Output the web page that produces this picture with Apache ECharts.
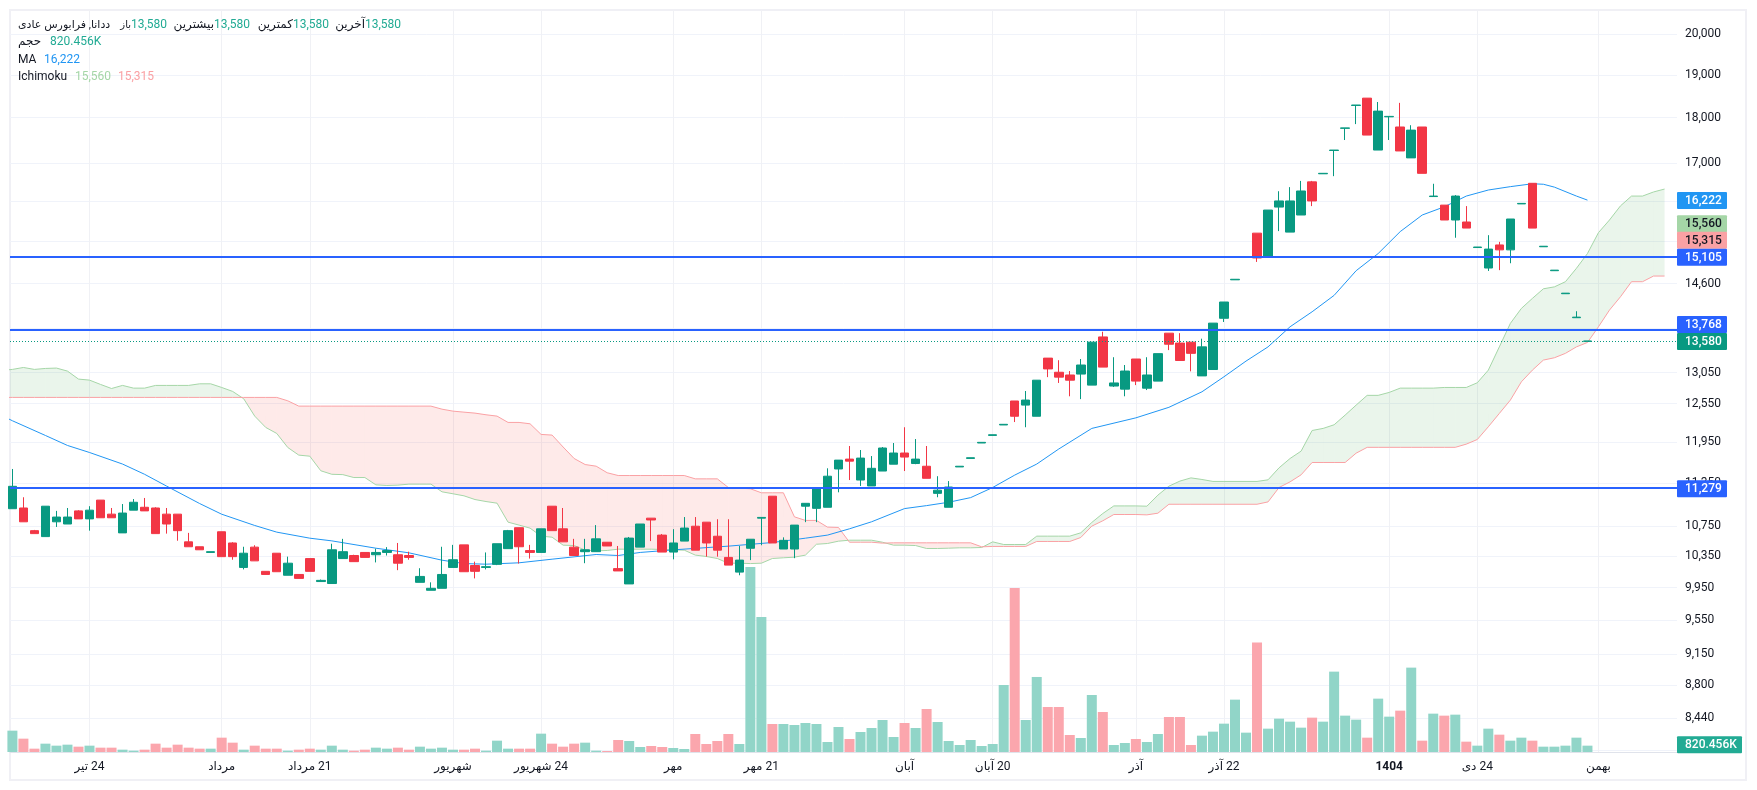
<!DOCTYPE html>
<html>
<head>
<meta charset="utf-8">
<style>html,body{margin:0;padding:0;background:#fff}#chart{width:1757px;height:790px}</style>
<script src="https://cdn.jsdelivr.net/npm/echarts@6/dist/echarts.min.js"></script>
</head>
<body>
<div id="chart"></div>
<script>
// [open, close, low, high], one row per session
var candles = [
[10990,11305,10990,11555],[11000,10810,10810,11150],[10690,10650,10650,10700],[10610,11025,10610,11025],[10810,10875,10740,10960],
[10780,10875,10780,11000],[10960,10850,10850,10970],[10850,10970,10690,11025],[11110,10865,10865,11110],[10915,10865,10865,11000],
[10660,10930,10660,11055],[10970,11080,10970,11125],[11010,10960,10960,11140],[11000,10650,10650,11010],[10915,10780,10650,11000],
[10915,10690,10555,10915],[10540,10475,10475,10660],[10475,10435,10435,10475],[10400,10410,10400,10410],[10675,10345,10345,10675],
[10525,10345,10305,10535],[10205,10390,10180,10475],[10470,10290,10290,10495],[10155,10115,10115,10155],[10390,10150,10150,10390],
[10105,10260,10105,10345],[10115,10065,10065,10115],[10320,10155,10155,10320],[10025,10040,10025,10050],[10000,10435,10000,10515],
[10320,10410,10320,10580],[10360,10280,10280,10370],[10400,10335,10335,10400],[10370,10400,10270,10450],[10400,10425,10360,10470],
[10370,10260,10170,10525],[10360,10335,10305,10410],[10015,10090,10015,10195],[9915,9940,9915,10015],[9940,10115,9940,10475],
[10205,10305,10205,10500],[10500,10150,10150,10500],[10230,10155,10065,10280],[10205,10215,10180,10400],[10245,10515,10235,10515],
[10450,10690,10450,10700],[10730,10475,10255,10730],[10425,10400,10320,10500],[10400,10715,10400,10715],[11025,10690,10690,11025],
[10715,10540,10540,11000],[10470,10360,10360,10580],[10410,10435,10260,10580],[10410,10580,10410,10765],[10535,10485,10485,10535],
[10190,10160,10160,10485],[9995,10590,9995,10605],[10470,10780,10470,10780],[10860,10835,10550,10860],[10630,10405,10405,10645],
[10405,10525,10310,10710],[10550,10725,10550,10875],[10750,10430,10430,10875],[10805,10525,10345,10805],[10615,10430,10345,10845],
[10335,10235,10235,10845],[10145,10300,10105,10485],[10455,10575,10300,10575],[10860,10870,10495,10870],[11165,10525,10525,11165],
[10445,10560,10445,10600],[10445,10765,10325,10765],[11025,11065,10805,11065],[10995,11280,10805,11280],[11010,11450,11010,11565],
[11555,11685,11220,11685],[11700,11670,11395,11895],[11395,11715,11310,11835],[11310,11565,11310,11745],[11525,11865,11525,11880],
[11625,11790,11625,11940],[11790,11730,11525,12180],[11635,11700,11625,12000],[11595,11420,11420,11895],[11205,11250,11150,11450],
[11010,11295,11010,11380],[11585,11595,11585,11595],[11710,11720,11710,11720],[11940,11950,11940,11950],[12055,12065,12055,12065],
[12215,12225,12215,12225],[12590,12350,12260,12590],[12525,12605,12180,12750],[12350,12925,12350,12925],[13290,13110,12975,13290],
[13055,12975,12880,13255],[13010,12925,12665,13075],[13025,13175,12620,13275],[12845,13560,12845,13560],[13650,13140,13140,13740],
[12830,12880,12815,13305],[12780,13075,12665,13175],[13275,12910,12845,13275],[12795,13010,12765,13305],[12910,13365,12910,13365],
[13715,13525,13425,13715],[13545,13250,13250,13715],[13560,13370,13070,13560],[12995,13480,12995,13620],[13100,13890,13100,13890],
[13975,14265,13910,14265],[14670,14680,14670,14680],[15095,15105,15095,15105],[15560,15080,15005,15560],[15105,16020,15105,16020],
[16080,16205,15600,16405],[15580,16205,15580,16490],[15920,16410,15920,16620],[16600,16205,16100,16620],[16770,16780,16770,16780],
[17270,17280,16720,17280],[17760,17770,17500,17770],[18280,18290,17855,18290],[18450,17610,17610,18450],[17280,18150,17280,18360],
[18020,18030,17500,18030],[17790,17260,17260,18340],[17110,17720,17110,17830],[17790,16780,16780,17790],[16295,16305,16295,16560],
[16120,15820,15820,16120],[15820,16305,15470,16325],[15780,15660,15660,16100],[15280,15290,15280,15290],[14890,15250,14835,15520],
[15330,15235,14850,15390],[15235,15840,14980,15840],[16145,16155,16145,16155],[16570,15660,15660,16570],[15295,15305,15295,15305],
[14840,14850,14840,14850],[14415,14425,14415,14425],[13985,13995,13985,14100],[13575,13580,13575,13580]
];
// volume in thousands
var volumes = [
2765,1728,432,1080,821,950,691,821,562,562,302,173,302,1080,562,950,562,432,432,1858,
1210,302,821,432,432,173,302,432,302,821,302,173,302,562,432,562,302,691,432,562,
302,302,432,173,1469,432,432,432,2376,1080,691,1080,1210,173,130,1555,1426,648,778,648,
518,389,2333,1037,1426,2333,1037,23976,17496,3629,3629,3499,3758,3629,1296,3240,1685,2592,3110,4147,
1944,3758,3110,5573,3888,1426,907,1555,778,1037,8683,21254,4147,9720,5832,5832,2203,1814,7387,5184,
907,1166,1685,1296,2333,4536,4536,907,2117,2635,3672,6782,2506,14170,3024,4320,3931,3154,4450,3931,
10411,4709,4190,1858,6912,4579,5357,10930,1469,4968,4709,4838,1339,821,3024,2246,1469,1858,1469,691,
691,821,1858,820.456
];
// moving average, read at these session indexes
var maIdx = [-1,0,3,5,7,10,12,14,17,19,22,24,27,29,33,36,39,41,43,46,49,53,55,57,60,65,69,72,74,76,78,81,83,85,87,89,91,93,95,98,102,105,108,110,112,114,116,118,120,122,124,126,128,130,132,134,136,138,139,140,142,143];
var maVal = [12365,12280,12054,11903,11798,11627,11478,11308,11062,10914,10760,10670,10589,10553,10456,10395,10299,10255,10247,10265,10312,10373,10360,10400,10434,10483,10531,10589,10630,10715,10810,10992,11033,11080,11145,11288,11466,11627,11850,12162,12325,12490,12737,12981,13240,13480,13826,14090,14385,14840,15165,15590,15920,16085,16305,16430,16500,16560,16550,16490,16305,16222];
// ichimoku spans, first value is one session before the first candle, last is 8 sessions past the last
var spanA = [13085,13102,13134,13102,13118,13124,13074,12943,12926,12856,12790,12840,12796,12796,12840,12840,12840,12840,12866,12866,12807,12743,12626,12352,12177,12085,11873,11759,11743,11529,11478,11473,11431,11431,11326,11317,11322,11336,11336,11336,11227,11199,11170,11118,11090,11067,10805,10765,10724,10616,10602,10496,10491,10430,10421,10426,10443,10443,10443,10443,10439,10434,10430,10365,10347,10321,10260,10260,10255,10260,10321,10330,10338,10365,10508,10518,10549,10562,10562,10562,10535,10496,10496,10491,10452,10452,10456,10461,10461,10465,10540,10505,10505,10505,10616,10616,10616,10616,10661,10801,10924,11029,11029,11029,11025,11180,11307,11380,11426,11403,11375,11375,11375,11375,11375,11398,11572,11709,11818,12130,12162,12218,12368,12525,12680,12680,12727,12796,12796,12796,12796,12807,12807,12807,12883,13090,13480,13885,14150,14330,14505,14540,14635,14885,15165,15570,15820,16105,16305,16305,16390,16450];
var spanB = [12647,12647,12647,12647,12647,12647,12647,12647,12647,12647,12647,12647,12647,12647,12647,12647,12647,12647,12647,12647,12647,12647,12647,12647,12647,12647,12593,12509,12509,12509,12509,12509,12509,12509,12509,12509,12509,12509,12509,12509,12461,12430,12414,12399,12373,12352,12254,12254,12233,12070,12060,11880,11709,11620,11596,11500,11460,11460,11460,11460,11460,11460,11460,11412,11412,11412,11288,11279,11270,11213,11213,11213,10878,10829,10829,10738,10733,10535,10535,10535,10523,10527,10527,10527,10527,10527,10527,10527,10527,10474,10479,10479,10479,10479,10545,10545,10545,10545,10598,10751,10824,10910,10910,10910,10905,10928,11052,11052,11052,11052,11052,11052,11052,11052,11052,11085,11288,11369,11470,11650,11650,11650,11650,11788,11875,11875,11875,11875,11875,11875,11875,11875,11875,11923,11993,12187,12394,12604,12898,13090,13257,13296,13370,13480,13555,13826,14120,14360,14635,14635,14740,14740];

var xTickIdx = [7,19,27,40,48,60,68,81,89,102,110,125,133,144];
var xTickNames = ['24 تیر','مرداد','21 مرداد','شهریور','24 شهریور','مهر','21 مهر','آبان','20 آبان','آذر','22 آذر','1404','24 دی','بهمن'];
var yGrid = [20000,19000,18000,17000,16200,15400,14600,13800,13050,12550,11950,11350,10750,10350,9950,9550,9150,8800,8440,8100];
var yLabels = [20000,19000,18000,17000,14600,13050,12550,11950,11350,10750,10350,9950,9550,9150,8800,8440];
var levels = [15105,13768,11279];
var lastPrice = 13580;
var tagValues = [16222,15560,15315,15105,13768,13580,11279];
var tagShift = [0,-10,-6,0,-6,0,0];
var tagBg = ['#2196f3','#a5d6a7','#faa1a4','#2962ff','#2962ff','#089981','#2962ff'];
var tagFg = ['#fff','#131722','#131722','#fff','#fff','#fff','#fff'];
var lastVolume = 820.456;
var lastVolumeText = '820.456K';

var FONT = 'Roboto, "DejaVu Sans", sans-serif';
var UP = '#089981', DOWN = '#f23645';

function fmt(v) { return Number(v).toLocaleString('en-US'); }

var myChart = echarts.init(document.getElementById('chart'));

function legendText(x, y, text, fill, align, size) {
    return { type: 'text', silent: true, z: 20, style: { x: x, y: y, text: text, fill: fill, font: (size || 12) + 'px ' + FONT, textAlign: align || 'left', textVerticalAlign: 'middle' } };
}

// tags on the price scale, anchored to the axis through api.coord
function tagItem(label, shift, bg, fg, w, params, api) {
    var y = api.coord([0, api.value(1)])[1] + shift + 0.5;
    var x = params.coordSys.x + params.coordSys.width;
    return { type: 'group', children: [
        { type: 'rect', shape: { x: x, y: y - 8.5, width: w, height: 17, r: 1 }, style: { fill: bg } },
        { type: 'text', style: { x: x + 8, y: y + 0.5, text: label, fill: fg, font: '500 12px ' + FONT, textVerticalAlign: 'middle' } }
    ] };
}

// cloud between the spans, one polygon per session
function cloudItem(params, api) {
    var i = params.dataIndex;
    if (i >= spanA.length - 1) return;
    var x0 = i - 1, x1 = i;
    var a0 = api.coord([x0, spanA[i]]), b0 = api.coord([x0, spanB[i]]);
    var a1 = api.coord([x1, spanA[i + 1]]), b1 = api.coord([x1, spanB[i + 1]]);
    var d0 = spanA[i] - spanB[i], d1 = spanA[i + 1] - spanB[i + 1];
    var green = 'rgba(67,160,71,0.11)', red = 'rgba(244,67,54,0.11)';
    if (d0 * d1 < 0) {
        var t = (a0[1] - b0[1]) / ((a0[1] - b0[1]) - (a1[1] - b1[1]));
        var c = [a0[0] + (a1[0] - a0[0]) * t, a0[1] + (a1[1] - a0[1]) * t];
        return { type: 'group', children: [
            { type: 'polygon', shape: { points: [a0, c, b0] }, style: { fill: d0 > 0 ? green : red } },
            { type: 'polygon', shape: { points: [c, a1, b1] }, style: { fill: d1 > 0 ? green : red } }
        ] };
    }
    return { type: 'polygon', shape: { points: [a0, a1, b1, b0] }, style: { fill: (d0 + d1) >= 0 ? green : red } };
}

var option = {
    animation: false,
    backgroundColor: '#fff',
    textStyle: { fontFamily: FONT },
    grid: { left: 10, top: 10, width: 1667, height: 742 },
    xAxis: {
        type: 'value', min: -0.218, max: 151.13,
        axisLine: { show: true, onZero: false, lineStyle: { color: '#e0e3eb', width: 1 } },
        axisTick: { show: false, customValues: xTickIdx },
        splitLine: { show: true, lineStyle: { color: '#f0f1f5', width: 1 } },
        axisLabel: {
            customValues: xTickIdx, color: '#131722', fontSize: 12, margin: 9,
            fontFamily: FONT,
            formatter: function (v) {
                var s = xTickNames[xTickIdx.indexOf(v)];
                return s === '1404' ? '{b|1404}' : '\u200F' + s;
            },
            rich: { b: { fontWeight: 'bold', fontSize: 12, color: '#131722', fontFamily: FONT } }
        }
    },
    yAxis: [{
        type: 'log', position: 'right', min: 8085, max: 20620,
        axisLine: { show: false },
        axisTick: { show: false, customValues: yGrid },
        splitLine: { show: true, lineStyle: { color: '#f0f3fa', width: 1 } },
        axisLabel: { customValues: yLabels, color: '#131722', fontSize: 12, margin: 8, fontFamily: FONT, formatter: fmt }
    }, {
        type: 'value', min: 0, max: 96120, show: false, splitLine: { show: false }
    }],
    series: [
        {
            name: 'volume', type: 'bar', yAxisIndex: 1, barWidth: 10, z: 1,
            data: volumes.map(function (v, i) { return [i, v]; }),
            itemStyle: { color: function (p) {
                var c = candles[p.dataIndex];
                return c[1] >= c[0] ? '#91d5c8' : '#fba6ad';
            } }
        },
        {
            name: 'cloud', type: 'custom', clip: true, z: 1, silent: true,
            data: spanA.map(function (v, i) { return [i - 1, v]; }),
            renderItem: cloudItem
        },
        {
            name: 'spanA', type: 'line', symbol: 'none', z: 2, silent: true,
            data: spanA.map(function (v, i) { return [i - 1, v]; }),
            lineStyle: { color: '#a5d6a7', width: 1 }
        },
        {
            name: 'spanB', type: 'line', symbol: 'none', z: 2, silent: true,
            data: spanB.map(function (v, i) { return [i - 1, v]; }),
            lineStyle: { color: '#faa1a4', width: 1 }
        },
        {
            name: 'MA', type: 'line', symbol: 'none', z: 2, silent: true,
            data: maIdx.map(function (x, i) { return [x, maVal[i]]; }),
            lineStyle: { color: '#2196f3', width: 1 }
        },
        {
            name: 'price', type: 'candlestick', barWidth: 9, z: 3,
            data: candles.map(function (c, i) { return [i, c[0], c[1], c[2], c[3]]; }),
            itemStyle: { color: UP, color0: DOWN, borderColor: UP, borderColor0: DOWN, borderWidth: 1 }
        },
        {
            name: 'levels', type: 'line', data: [], z: 5, silent: true,
            markLine: {
                silent: true, symbol: 'none', animation: false, label: { show: false },
                data: levels.map(function (v) {
                    return { yAxis: v, lineStyle: { color: '#2962ff', width: 2, type: 'solid' } };
                }).concat([{ yAxis: lastPrice, lineStyle: { color: UP, width: 1, type: [1, 2] } }])
            }
        },
        {
            name: 'tags', type: 'custom', z: 10, silent: true,
            data: tagValues.map(function (v) { return [0, v]; }),
            renderItem: function (params, api) {
                var i = params.dataIndex;
                return tagItem(fmt(tagValues[i]), tagShift[i], tagBg[i], tagFg[i], 50, params, api);
            }
        },
        {
            name: 'volumeTag', type: 'custom', yAxisIndex: 1, z: 10, silent: true,
            data: [[0, lastVolume]],
            renderItem: function (params, api) {
                return tagItem(lastVolumeText, -1.5, '#22ab94', '#fff', 65, params, api);
            }
        }
    ],
    graphic: [
        { type: 'rect', silent: true, z: -1, shape: { x: 10, y: 10, width: 1736, height: 770 }, style: { fill: 'none', stroke: '#f0f0f5', lineWidth: 2 } },
        legendText(18, 25, 'ددانا, فرابورس عادی', '#131722', 'left', 11),
        legendText(131, 25, 'باز', '#131722', 'right', 10),
        legendText(131, 25, '13,580', '#22ab94'),
        legendText(214, 25, 'بیشترین', '#131722', 'right'),
        legendText(214, 25, '13,580', '#22ab94'),
        legendText(293, 25, 'کمترین', '#131722', 'right'),
        legendText(293, 25, '13,580', '#22ab94'),
        legendText(365, 25, 'آخرین', '#131722', 'right'),
        legendText(365, 25, '13,580', '#22ab94'),
        legendText(18, 42, 'حجم', '#131722'),
        legendText(50, 42, '820.456K', '#22ab94'),
        legendText(18, 59.5, 'MA', '#131722'),
        legendText(44, 59.5, '16,222', '#2196f3'),
        legendText(18, 76.5, 'Ichimoku', '#131722'),
        legendText(75, 76.5, '15,560', '#a5d6a7'),
        legendText(118, 76.5, '15,315', '#faa1a4')
    ]
};

myChart.setOption(option);
</script>
</body>
</html>
